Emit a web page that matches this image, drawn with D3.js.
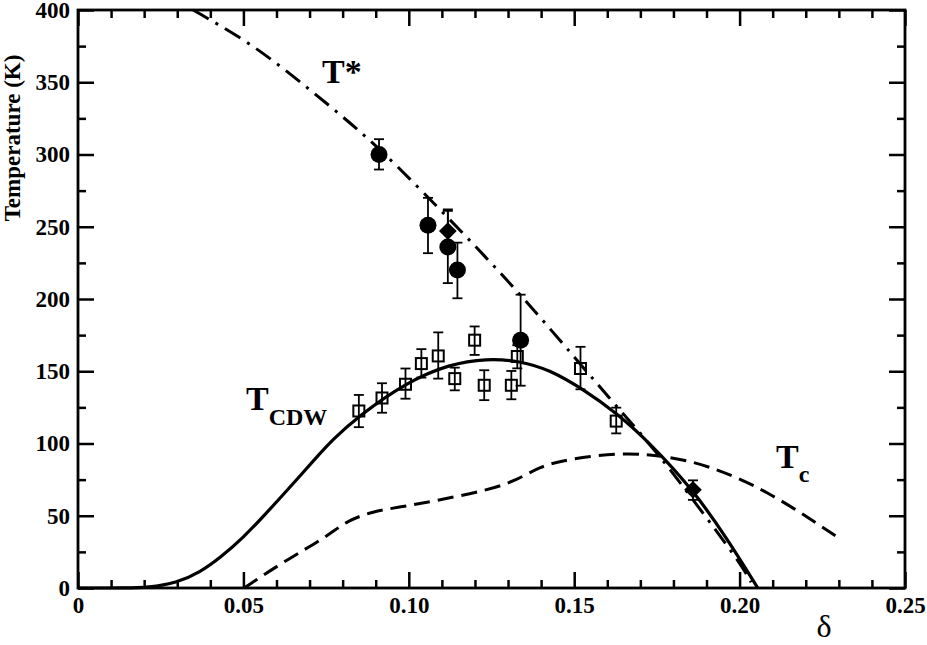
<!DOCTYPE html>
<html>
<head>
<meta charset="utf-8">
<script src="https://cdn.jsdelivr.net/npm/d3@7"></script>
<style>
  body { margin: 0; background: #fff; }
  svg { display: block; }
  text { font-family: "Liberation Serif", "DejaVu Serif", serif; }
</style>
</head>
<body>
<div id="chart"></div>
<script>
// Phase diagram: delta vs temperature

// T* line (dash-dot), [delta, T]
const tStarLine = [
  [0.0348, 400], [0.050, 380], [0.062, 360], [0.0802, 326], [0.0912, 304],
  [0.1043, 274], [0.120, 237], [0.135, 200], [0.1507, 158], [0.1627, 126],
  [0.1758, 92], [0.1879, 55], [0.200, 18], [0.2035, 4]
];

// T_CDW fit (solid)
const tCdwLine = [
  [0, 0], [0.015, 0], [0.021, 0.4], [0.0298, 3.4], [0.0369, 11], [0.043, 21],
  [0.050, 35], [0.056, 49.5], [0.062, 64.5], [0.0671, 77.5], [0.0721, 90.5],
  [0.0771, 103], [0.0847, 118.8], [0.0993, 142.5], [0.1124, 155], [0.1235, 158.8],
  [0.1335, 157.2], [0.1426, 151], [0.1527, 137.5], [0.1627, 121.3], [0.1728, 100.5],
  [0.1859, 68], [0.196, 35], [0.2055, 0]
];

// Tc (dashed)
const tcLine = [
  [0.0502, 0], [0.062, 18], [0.0753, 35.6], [0.0812, 46.5], [0.0892, 53],
  [0.0973, 56], [0.1073, 60], [0.1245, 68], [0.1325, 74.5], [0.1396, 84],
  [0.1476, 89], [0.1647, 94], [0.1778, 91.2], [0.190, 85.4], [0.2081, 68],
  [0.2297, 35]
];

// measured points: [delta, T, low, high]
const circlePoints = [
  [0.0910, 300, 289.6, 310.6],
  [0.1058, 251, 231.7, 270],
  [0.1118, 236, 211, 262],
  [0.1147, 220, 200.5, 239],
  [0.1338, 171.5, 140, 203]
];

const diamondPoints = [
  [0.1118, 247, 233, 261],
  [0.1859, 68, 61, 74.5]
];

const squarePoints = [
  [0.0849, 122.5, 111.3, 133.6],
  [0.0919, 131.5, 121.3, 141.7],
  [0.0990, 141, 131, 151.9],
  [0.1038, 155.3, 145.6, 165.3],
  [0.1089, 160.6, 144.9, 176.9],
  [0.1139, 144.9, 136.8, 152.5],
  [0.1199, 171.5, 161.3, 181],
  [0.1228, 140.3, 130, 150.7],
  [0.1310, 140.3, 130.6, 150.2],
  [0.1328, 160.2, 152, 168],
  [0.1519, 151.9, 137.5, 166.9],
  [0.1627, 115.5, 107, 124.8]
];

const xTicks = [0, 0.05, 0.10, 0.15, 0.20, 0.25];
const xTickLabels = ['0', '0.05', '0.10', '0.15', '0.20', '0.25'];
const yTicks = [0, 50, 100, 150, 200, 250, 300, 350, 400];

const width = 927, height = 645;
const margin = { top: 10, right: 22, bottom: 57, left: 78 };

const svg = d3.select('#chart')
  .append('svg')
  .attr('width', width)
  .attr('height', height);

const x = d3.scaleLinear().domain([0, 0.25]).range([margin.left, width - margin.right]);
const y = d3.scaleLinear().domain([0, 400]).range([height - margin.bottom, margin.top]);

const majorLen = 16, minorLen = 8;
const xMinor = d3.range(0, 0.2501, 0.01).filter(v => Math.abs(v * 20 - Math.round(v * 20)) > 1e-6);
const yMinor = d3.range(25, 400, 50);

// axes: ticks pointing inward on all four sides
function styleAxis(g) {
  g.select('.domain').remove();
  g.selectAll('line').attr('stroke', '#000').attr('stroke-width', 2.5);
  g.selectAll('text')
    .attr('fill', '#000')
    .style('font-size', '23px')
    .style('font-weight', 'bold');
}

function tickPair(pos, axisFn, scale) {
  svg.append('g')
    .attr('transform', pos)
    .call(axisFn(scale).tickValues(scale === x ? xTicks : yTicks).tickSize(majorLen).tickFormat(''))
    .call(styleAxis);
  svg.append('g')
    .attr('transform', pos)
    .call(axisFn(scale).tickValues(scale === x ? xMinor : yMinor).tickSize(minorLen).tickFormat(''))
    .call(styleAxis);
}

tickPair(`translate(0,${y(0)})`, d3.axisTop, x);
tickPair(`translate(0,${y(400)})`, d3.axisBottom, x);
tickPair(`translate(${x(0)},0)`, d3.axisRight, y);
tickPair(`translate(${x(0.25)},0)`, d3.axisLeft, y);

// tick labels
svg.append('g')
  .attr('transform', `translate(0,${y(0)})`)
  .call(d3.axisBottom(x).tickValues(xTicks).tickSize(0).tickPadding(9)
    .tickFormat((d, i) => xTickLabels[i]))
  .call(styleAxis);
svg.append('g')
  .attr('transform', `translate(${x(0)},0)`)
  .call(d3.axisLeft(y).tickValues(yTicks).tickSize(0).tickPadding(8))
  .call(styleAxis);

// frame
svg.append('rect')
  .attr('x', x(0))
  .attr('y', y(400))
  .attr('width', x(0.25) - x(0))
  .attr('height', y(0) - y(400))
  .attr('fill', 'none')
  .attr('stroke', '#000')
  .attr('stroke-width', 2.8);

// curves
const line = d3.line()
  .x(d => x(d[0]))
  .y(d => y(d[1]))
  .curve(d3.curveBasis);

svg.append('path')
  .datum(tStarLine)
  .attr('d', line)
  .attr('fill', 'none')
  .attr('stroke', '#000')
  .attr('stroke-width', 3)
  .attr('stroke-dasharray', '18,8,3,8');

svg.append('path')
  .datum(tCdwLine)
  .attr('d', line)
  .attr('fill', 'none')
  .attr('stroke', '#000')
  .attr('stroke-width', 3.2);

svg.append('path')
  .datum(tcLine)
  .attr('d', line)
  .attr('fill', 'none')
  .attr('stroke', '#000')
  .attr('stroke-width', 3)
  .attr('stroke-dasharray', '16,8');

// error bars
const allPoints = [...squarePoints, ...circlePoints, ...diamondPoints];
const capW = 5;
const err = svg.append('g')
  .attr('stroke', '#000')
  .attr('stroke-width', 1.8);

err.selectAll('.bar')
  .data(allPoints)
  .join('line')
    .attr('class', 'bar')
    .attr('x1', d => x(d[0]))
    .attr('x2', d => x(d[0]))
    .attr('y1', d => y(d[2]))
    .attr('y2', d => y(d[3]));

err.selectAll('.cap-lo')
  .data(allPoints)
  .join('line')
    .attr('class', 'cap-lo')
    .attr('x1', d => x(d[0]) - capW)
    .attr('x2', d => x(d[0]) + capW)
    .attr('y1', d => y(d[2]))
    .attr('y2', d => y(d[2]));

err.selectAll('.cap-hi')
  .data(allPoints)
  .join('line')
    .attr('class', 'cap-hi')
    .attr('x1', d => x(d[0]) - capW)
    .attr('x2', d => x(d[0]) + capW)
    .attr('y1', d => y(d[3]))
    .attr('y2', d => y(d[3]));

// markers
svg.append('g')
  .selectAll('rect')
  .data(squarePoints)
  .join('rect')
    .attr('x', d => x(d[0]) - 5.5)
    .attr('y', d => y(d[1]) - 5.5)
    .attr('width', 11)
    .attr('height', 11)
    .attr('fill', 'none')
    .attr('stroke', '#000')
    .attr('stroke-width', 2);

svg.append('g')
  .selectAll('circle')
  .data(circlePoints)
  .join('circle')
    .attr('cx', d => x(d[0]))
    .attr('cy', d => y(d[1]))
    .attr('r', 8.5)
    .attr('fill', '#000');

svg.append('g')
  .selectAll('path')
  .data(diamondPoints)
  .join('path')
    .attr('d', d3.symbol(d3.symbolDiamond2, 200))
    .attr('transform', d => `translate(${x(d[0])},${y(d[1])})`)
    .attr('fill', '#000');

// labels
svg.append('text')
  .attr('transform', `translate(20,138) rotate(-90)`)
  .attr('text-anchor', 'middle')
  .style('font-size', '23px')
  .style('font-weight', 'bold')
  .text('Temperature (K)');

svg.append('text')
  .attr('x', 824)
  .attr('y', 637)
  .attr('text-anchor', 'middle')
  .style('font-size', '32px')
  .text('δ');

svg.append('text')
  .attr('x', 322)
  .attr('y', 83)
  .style('font-size', '34px')
  .style('font-weight', 'bold')
  .text('T*');

const cdw = svg.append('text')
  .attr('x', 246)
  .attr('y', 410)
  .style('font-size', '34px')
  .style('font-weight', 'bold');
cdw.append('tspan').text('T');
cdw.append('tspan').attr('dy', 15).style('font-size', '24px').text('CDW');

const tc = svg.append('text')
  .attr('x', 776)
  .attr('y', 468)
  .style('font-size', '34px')
  .style('font-weight', 'bold');
tc.append('tspan').text('T');
tc.append('tspan').attr('dy', 14).style('font-size', '24px').text('c');
</script>
</body>
</html>
